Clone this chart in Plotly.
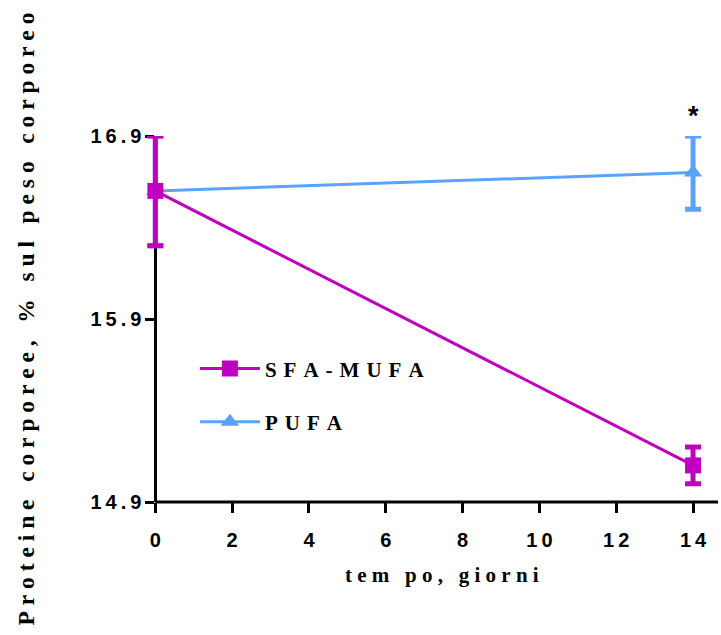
import plotly.graph_objects as go

days = [0, 14]
sfa_mufa = [16.60, 15.10]
sfa_mufa_err = [0.30, 0.10]
pufa = [16.60, 16.70]
pufa_err = [0.30, 0.20]
x_ticks = [0, 2, 4, 6, 8, 10, 12, 14]
y_ticks = [14.9, 15.9, 16.9]

MAGENTA = "#C000C0"
BLUE = "#59A3FF"
SANS = "Liberation Sans, Arial, sans-serif"
SERIF = "Liberation Serif, Times New Roman, serif"

X_MIN, X_MAX = -0.4, 14.65
LEFT, RIGHT, TOP, BOTTOM = 140, 3, 136, 133


def spaced(s, gap="\u2009"):
    return gap.join(list(s))


fig = go.Figure()
fig.add_trace(go.Scatter(
    x=days, y=pufa, name=spaced("PUFA", "\u2004"), mode="lines+markers",
    line=dict(color=BLUE, width=3),
    marker=dict(symbol="triangle-up", size=16, color=BLUE),
    error_y=dict(type="data", array=pufa_err, color=BLUE, thickness=5, width=8),
    cliponaxis=False, legendrank=2, legendgroup="b",
))
fig.add_trace(go.Scatter(
    x=days, y=sfa_mufa, name=spaced("SFA-MUFA", "\u2004"), mode="lines+markers",
    line=dict(color=MAGENTA, width=3),
    marker=dict(symbol="square", size=16, color=MAGENTA),
    error_y=dict(type="data", array=sfa_mufa_err, color=MAGENTA, thickness=5, width=8),
    cliponaxis=False, legendrank=1, legendgroup="a",
))

fig.add_annotation(x=days[1], y=pufa[1] + pufa_err[1], text="*", showarrow=False,
                   yshift=20, font=dict(family=SANS, size=27, color="black", weight="bold"))

# x-axis title, centred a little right of the plot-area centre as in the original
fig.add_annotation(xref="paper", yref="paper", x=0.5225, y=-0.2, yanchor="middle",
                   text=spaced("tem po, giorni", "\u2005"), showarrow=False,
                   font=dict(family=SERIF, size=21, color="black", weight="bold"))

# y-axis sits at x = 0 (data), leaving room so the markers at x=0 are not clipped
yaxis_pos = (0 - X_MIN) / (X_MAX - X_MIN)
fig.add_shape(type="line", xref="paper", yref="paper", x0=yaxis_pos, x1=1, y0=0, y1=0,
              line=dict(color="black", width=3), layer="below")

fig.update_layout(
    width=721, height=635,
    margin=dict(l=LEFT, r=RIGHT, t=TOP, b=BOTTOM),
    plot_bgcolor="white", paper_bgcolor="white",
    showlegend=True,
    legend=dict(x=0.095, y=0.42, xanchor="left", yanchor="top",
                font=dict(family=SERIF, size=21, color="black", weight="bold"),
                itemwidth=60, tracegroupgap=23, bgcolor="rgba(0,0,0,0)"),
    xaxis=dict(range=[X_MIN, X_MAX], tickvals=x_ticks,
               ticktext=[spaced(str(v), "\u2009") for v in x_ticks],
               showgrid=False, zeroline=False, showline=False,
               ticks="outside", ticklen=10, tickwidth=3, tickcolor="black",
               ticklabelstandoff=10,
               tickfont=dict(family=SANS, size=20, color="black", weight="bold"),
               layer="below traces"),
    yaxis=dict(range=[14.9, 16.9], tickvals=y_ticks,
               anchor="free", position=yaxis_pos,
               ticktext=[spaced(f"{v:.1f}", "\u2009") for v in y_ticks],
               showgrid=False, zeroline=False, showline=True, linecolor="black",
               linewidth=3, ticks="outside", ticklen=9, tickwidth=3, tickcolor="black",
               tickfont=dict(family=SANS, size=20, color="black", weight="bold"),
               layer="below traces",
               title=dict(text=spaced("Proteine corporee, % sul peso corporeo", "\u2005"),
                          font=dict(family=SERIF, size=23.5, color="black", weight="bold"),
                          standoff=48)),
)

fig.write_html("out.html")
